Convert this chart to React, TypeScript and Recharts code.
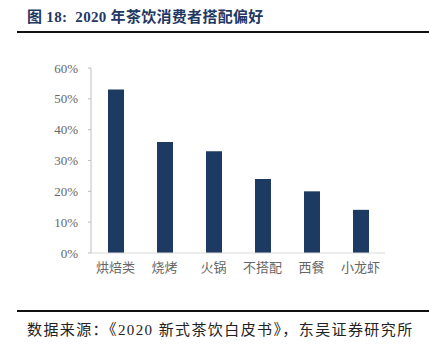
import React from 'react';
import { BarChart, Bar, XAxis, YAxis } from 'recharts';

// 2020 年茶饮消费者搭配偏好
const categories = ['烘焙类', '烧烤', '火锅', '不搭配', '西餐', '小龙虾'];
const shares = [53, 36, 33, 24, 20, 14];
const yTicks = [0, 10, 20, 30, 40, 50, 60];

const titleText = '图 18:  2020 年茶饮消费者搭配偏好';
const sourceText = '数据来源：《2020 新式茶饮白皮书》，东吴证券研究所';

const FONT = "'Liberation Serif', 'Noto Sans CJK SC', serif";

export default function App() {
  const chartData = categories.map((name, i) => ({ name, value: shares[i] }));

  return (
    <div
      style={{
        position: 'absolute',
        left: 0,
        top: 0,
        width: 429,
        height: 358,
        background: '#fff',
        fontFamily: FONT,
      }}
    >
      <div
        style={{
          position: 'absolute',
          left: 27,
          top: 5,
          fontSize: 15,
          fontWeight: 'bold',
          color: '#1f3864',
          whiteSpace: 'pre',
          letterSpacing: 0.3,
        }}
      >
        {titleText}
      </div>
      <div style={{ position: 'absolute', left: 17, right: 0, top: 31, height: 2, background: '#111' }} />

      <div style={{ position: 'absolute', left: 0, top: 0 }}>
        <BarChart
          width={429}
          height={290}
          data={chartData}
          margin={{ top: 68, right: 44, left: 0, bottom: 7 }}
        >
          <YAxis
            width={91}
            domain={[0, 60]}
            ticks={yTicks}
            tickFormatter={(v) => `${v}%`}
            axisLine={{ stroke: '#bfbfbf' }}
            tickLine={{ stroke: '#bfbfbf' }}
            tickSize={3}
            tickMargin={10}
            tick={{ fill: '#666', fontSize: 13, fontFamily: FONT }}
            interval={0}
          />
          <XAxis
            dataKey="name"
            height={30}
            axisLine={{ stroke: '#d9d9d9' }}
            tickLine={false}
            tickSize={0}
            tickMargin={10}
            tick={{ fill: '#666', fontSize: 13, fontFamily: FONT }}
            interval={0}
          />
          <Bar dataKey="value" fill="#1d3a63" barSize={16} isAnimationActive={false} />
        </BarChart>
      </div>

      <div style={{ position: 'absolute', left: 17, right: 0, top: 310, height: 2, background: '#111' }} />
      <div
        style={{
          position: 'absolute',
          left: 27,
          top: 318,
          fontSize: 15,
          color: '#222',
          whiteSpace: 'pre',
          letterSpacing: 1.4,
        }}
      >
        {sourceText}
      </div>
    </div>
  );
}
